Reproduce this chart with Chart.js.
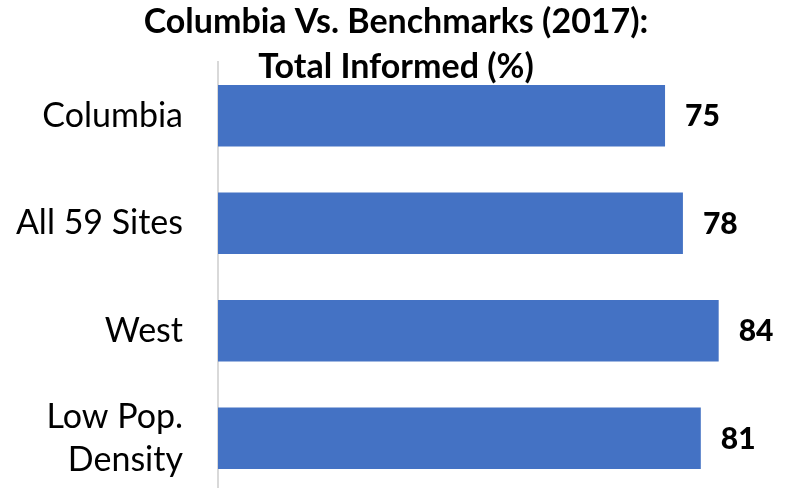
<!DOCTYPE html>
<html>
<head>
<meta charset="utf-8">
<script src="https://cdn.jsdelivr.net/npm/chart.js@4/dist/chart.umd.min.js"></script>
<style>
  html, body { margin: 0; padding: 0; background: #fff; overflow: hidden; }
  #wrap { width: 792px; height: 492px; }
</style>
</head>
<body>
<div id="wrap"><canvas id="chart" width="792" height="492"></canvas></div>
<script>
const categories = ["Columbia", "All 59 Sites", "West", ["Low Pop.", "Density"]];
const informed = [75, 78, 84, 81];
const titleLines = ["Columbia Vs. Benchmarks (2017):", "Total Informed (%)"];

const FONT = "Lato, 'Open Sans', sans-serif";

// value labels right of each bar
const barLabels = {
  id: "barLabels",
  afterDatasetsDraw(chart) {
    const ctx = chart.ctx;
    const meta = chart.getDatasetMeta(0);
    ctx.save();
    ctx.font = "900 30px " + FONT;
    ctx.fillStyle = "#000";
    ctx.textAlign = "left";
    ctx.textBaseline = "middle";
    meta.data.forEach((bar, i) => {
      ctx.fillText(String(informed[i]), bar.x + 20, bar.y + 1);
    });
    ctx.restore();
  }
};

new Chart(document.getElementById("chart"), {
  type: "bar",
  data: {
    labels: categories,
    datasets: [{
      data: informed,
      backgroundColor: "#4472C4",
      barPercentage: 0.57,
      categoryPercentage: 1
    }]
  },
  options: {
    indexAxis: "y",
    responsive: false,
    animation: false,
    layout: { padding: 0 },
    plugins: {
      legend: { display: false },
      tooltip: { enabled: false },
      title: {
        display: true,
        text: titleLines,
        color: "#000",
        font: { family: FONT, size: 34, weight: "bold", lineHeight: "45px" },
        padding: { top: 0, bottom: -28 }
      }
    },
    scales: {
      x: { display: false, min: 0, max: 96.3 },
      y: {
        afterFit(scale) {
          scale.width = 218;
          scale.paddingTop = 0;
          scale.paddingBottom = 0;
        },
        grid: { display: false, drawTicks: false },
        border: { color: "#d9d9d9", width: 2 },
        ticks: {
          color: "#000",
          padding: 35,
          font: { family: FONT, size: 34, lineHeight: "43px" }
        }
      }
    }
  },
  plugins: [barLabels]
});
</script>
</body>
</html>
